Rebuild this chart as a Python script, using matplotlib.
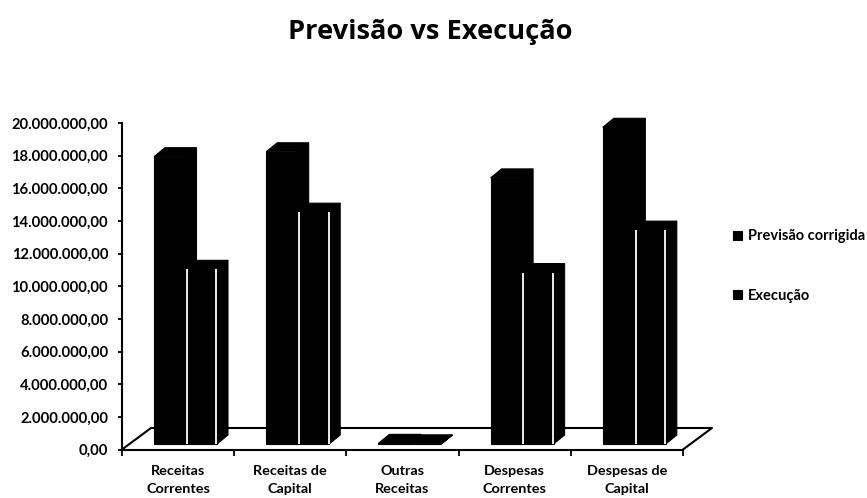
import matplotlib
matplotlib.use("Agg")
import matplotlib.pyplot as plt
from matplotlib.patches import Polygon
from matplotlib.ticker import FuncFormatter

categories = ["Receitas\nCorrentes", "Receitas de\nCapital", "Outras\nReceitas",
              "Despesas\nCorrentes", "Despesas de\nCapital"]
previsao = [17600000, 17900000, 40000, 16300000, 19400000]
execucao = [10700000, 14200000, 10000, 10500000, 13100000]
series_names = ["Previsão corrigida", "Execução"]
title = "Previsão vs Execução"

W, H = 867, 498
L, R, T, B = 122, 683, 123, 449.5
plt.rcParams["font.family"] = ["Lato", "DejaVu Sans"]
fig = plt.figure(figsize=(W / 100, H / 100), dpi=100, facecolor="white")
ax = fig.add_axes([L / W, 1 - B / H, (R - L) / W, (B - T) / H])
ax.set_xlim(0, 5)
ax.set_ylim(0, 20000000)

cat_px = (R - L) / 5
val_px = (B - T) / 20000000
bar_w = 31.5 / cat_px
first = 32 / cat_px
base = 5.5 / val_px
dx = 11 / cat_px
dy = 9 / val_px

def solid_3d(x, v, label, edge):
    bars = ax.bar(x, v, width=bar_w, bottom=base, align="edge", color="black",
                  edgecolor="black", linewidth=0.8, clip_on=False, zorder=3, label=label)
    top = base + v
    ax.add_patch(Polygon([(x + bar_w, base), (x + bar_w + dx, base + dy),
                          (x + bar_w + dx, top + dy), (x + bar_w, top)],
                         fc="black", ec="black", lw=0.8, clip_on=False, zorder=2))
    ax.add_patch(Polygon([(x, top), (x + dx, top + dy), (x + bar_w + dx, top + dy),
                          (x + bar_w, top)],
                         fc="black", ec="black", lw=0.8, clip_on=False, zorder=2))
    if edge and v > 1000000:
        for xe in (x + 0.012, x + bar_w - 0.006):
            ax.plot([xe, xe], [base, top], color="white", lw=1.3,
                    clip_on=False, zorder=4, solid_capstyle="butt")
    return bars

handles = []
for i, (p, e) in enumerate(zip(previsao, execucao)):
    b1 = solid_3d(i + first, p, series_names[0], False)
    b2 = solid_3d(i + first + bar_w, e, series_names[1], True)
    if i == 0:
        handles = [b1, b2]

# floor of the 3-D box
fx = 29 / cat_px
fy = 21.5 / val_px
ax.plot([0, fx, 5 + fx, 5], [0, fy, fy, 0], color="black", lw=1.5,
        clip_on=False, zorder=1)

for s in ("top", "right"):
    ax.spines[s].set_visible(False)
for s in ("left", "bottom"):
    ax.spines[s].set_linewidth(1.5)
    ax.spines[s].set_zorder(5)

ax.set_yticks(range(0, 20000001, 2000000))
ax.yaxis.set_major_formatter(FuncFormatter(
    lambda v, _: f"{v:,.2f}".replace(",", "X").replace(".", ",").replace("X", ".")))
ax.tick_params(axis="y", length=3, width=1.3, pad=7, labelsize=10.6)
for t in ax.get_yticklabels():
    t.set_fontweight("bold")

ax.set_xticks(range(6))
ax.set_xticklabels([])
ax.tick_params(axis="x", which="major", length=4, width=1.3)
ax.set_xticks([i + 0.5 for i in range(5)], minor=True)
ax.set_xticklabels(categories, minor=True, fontsize=10.4, fontweight="bold",
                   linespacing=1.6)
ax.tick_params(axis="x", which="minor", length=0, pad=11.5)

fig.legend(handles, series_names, loc="center left",
           bbox_to_anchor=(733 / W, 1 - 266 / H), frameon=False,
           prop={"size": 10.5, "weight": "bold", "family": "Lato"},
           labelspacing=3.1, handlelength=0.6, handleheight=0.6,
           handletextpad=0.45, borderpad=0, borderaxespad=0)

fig.text(430 / W, 1 - 32 / H, title, ha="center", va="center",
         fontsize=19.6, fontweight="bold", family="Open Sans")
fig.savefig("out.png", dpi=100, facecolor="white")
